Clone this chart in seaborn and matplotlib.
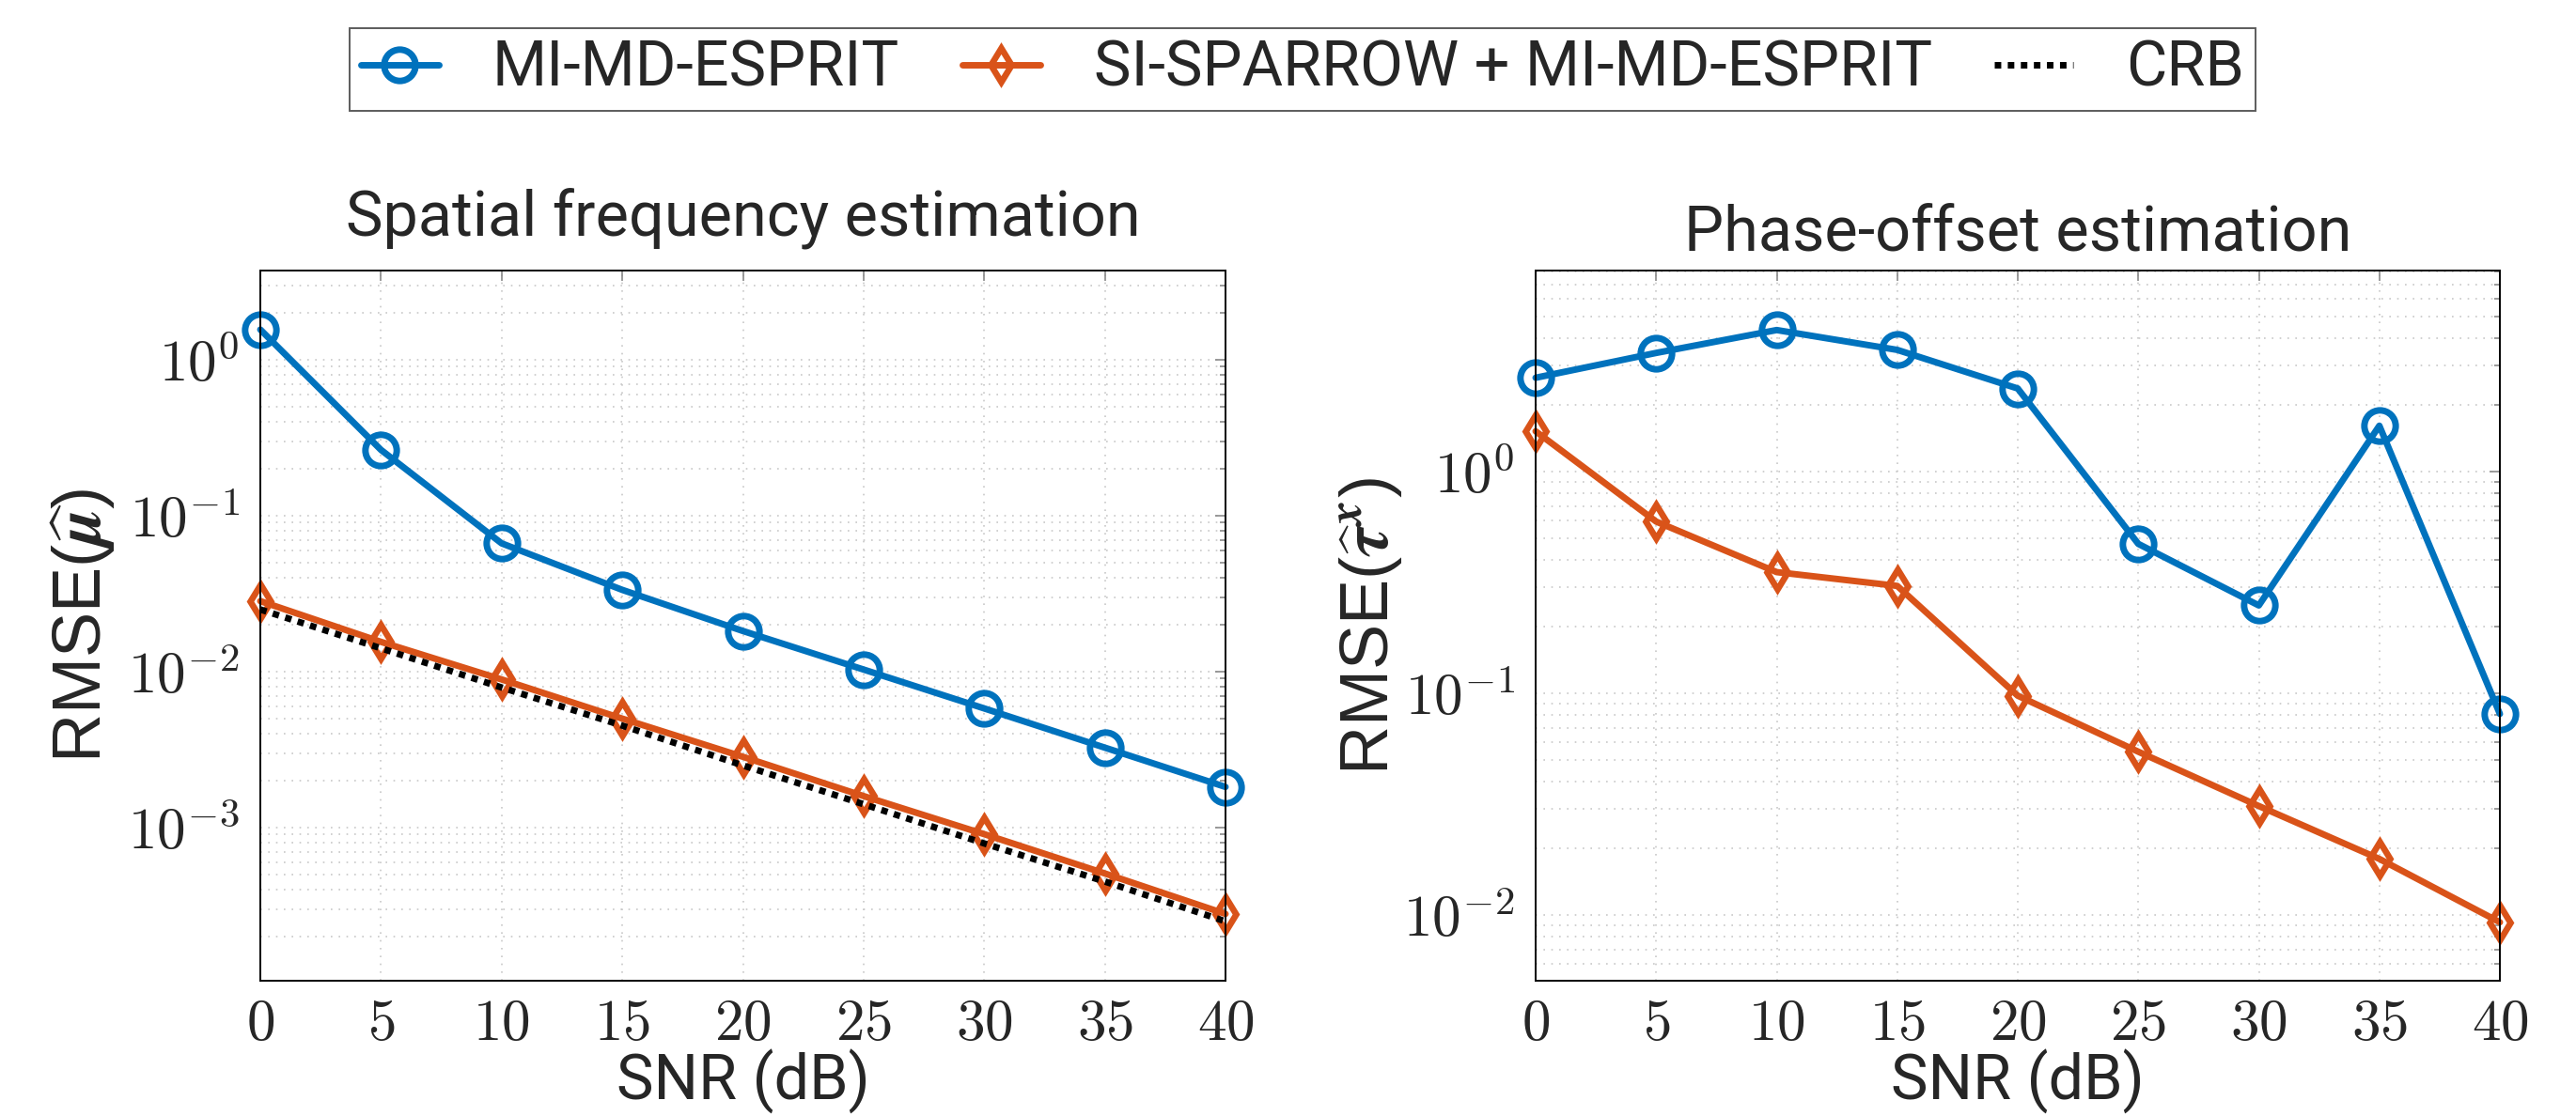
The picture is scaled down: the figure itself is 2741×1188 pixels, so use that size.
import numpy as np
import pandas as pd
import matplotlib
matplotlib.use("Agg")
import matplotlib.pyplot as plt
import matplotlib.ticker as mticker
import seaborn as sns

# ---------------- data ----------------
snr = [0, 5, 10, 15, 20, 25, 30, 35, 40]

mu_mimd = [1.56, 0.264, 0.0664, 0.0334, 0.0182, 0.0103, 0.0058, 0.00325, 0.00182]
mu_sisp = [0.0283, 0.0155, 0.0089, 0.00499, 0.00284, 0.00159, 0.000906, 0.000507, 0.000279]
mu_crb = [0.0250, 0.0141, 0.0079, 0.0045, 0.0025, 0.00141, 0.00079, 0.00045, 0.00025]

tau_mimd = [2.65, 3.43, 4.35, 3.54, 2.37, 0.472, 0.249, 1.61, 0.0807]
tau_sisp = [1.52, 0.595, 0.352, 0.305, 0.0975, 0.0545, 0.031, 0.0179, 0.00927]

labels = ["MI-MD-ESPRIT", "SI-SPARROW + MI-MD-ESPRIT", "CRB"]
titles = ["Spatial frequency estimation", "Phase-offset estimation"]
ylabels = [r"RMSE($\widehat{\boldsymbol{\mu}}$)",
           r"RMSE($\widehat{\boldsymbol{\tau}}^{\boldsymbol{x}}$)"]
xlabel = "SNR (dB)"

# ---------------- style ----------------
sns.set_style("white")
plt.rcParams["font.family"] = ["Roboto", "DejaVu Sans"]
plt.rcParams["mathtext.fontset"] = "cm"

BLUE = "#0072BD"
ORANGE = "#D95319"

W, H = 2741, 1188
DPI = 200
fig = plt.figure(figsize=(W / DPI, H / DPI), dpi=DPI)

ax1 = fig.add_axes([277 / W, 1 - 1044 / H, (1304 - 277) / W, (1044 - 288) / H])
ax2 = fig.add_axes([1634 / W, 1 - 1044 / H, (2660 - 1634) / W, (1044 - 288) / H])

line_kw = dict(linewidth=2.5, markersize=12, markeredgewidth=2.5,
               markerfacecolor="none", clip_on=False)
dia_kw = dict(linewidth=2.5, markersize=9, markeredgewidth=2.4,
              markerfacecolor="none", clip_on=False)


def draw(ax, s1, s2, crb=None):
    df = pd.DataFrame({"snr": snr, "a": s1, "b": s2})
    sns.lineplot(data=df, x="snr", y="a", ax=ax, color=BLUE, marker="o",
                 sort=False, errorbar=None, label=labels[0], markeredgecolor=BLUE,
                 **line_kw)
    sns.lineplot(data=df, x="snr", y="b", ax=ax, color=ORANGE, marker="d",
                 sort=False, errorbar=None, label=labels[1], markeredgecolor=ORANGE,
                 **dia_kw)
    if crb is not None:
        dfc = pd.DataFrame({"snr": snr, "c": crb})
        sns.lineplot(data=dfc, x="snr", y="c", ax=ax, color="black",
                     sort=False, errorbar=None, label=labels[2],
                     linewidth=2.5, linestyle=(0, (1, 1)), clip_on=False)


draw(ax1, mu_mimd, mu_sisp, mu_crb)
draw(ax2, tau_mimd, tau_sisp)

ylims = [(1.04e-4, 3.73), (0.00505, 8.07)]
title_pads = [13, 7.5]
ylabel_x = [-0.148, -0.136]

for i, ax in enumerate([ax1, ax2]):
    ax.set_yscale("log")
    ax.set_xlim(0, 40)
    ax.set_ylim(*ylims[i])
    ax.set_xticks(snr)
    ax.xaxis.set_major_formatter(mticker.FuncFormatter(lambda v, p: f"${v:g}$"))
    ax.yaxis.set_major_locator(mticker.LogLocator(base=10, numticks=20))
    ax.yaxis.set_minor_locator(mticker.LogLocator(base=10, subs=np.arange(2, 10), numticks=20))
    ax.yaxis.set_major_formatter(mticker.FuncFormatter(
        lambda v, p: f"$10^{{{int(round(np.log10(v)))}}}$"))
    ax.yaxis.set_minor_formatter(mticker.NullFormatter())
    ax.tick_params(which="both", direction="in", top=True, right=True,
                   color="#8a8a8a", width=0.6, labelsize=22)
    ax.tick_params(which="major", length=4)
    ax.tick_params(which="minor", length=2.2)
    ax.tick_params(axis="x", pad=6)
    ax.tick_params(axis="y", pad=8)
    ax.grid(True, which="major", linestyle=(0, (1, 4)), color="#c8c8c8", linewidth=0.6)
    ax.grid(True, which="minor", axis="y", linestyle=(0, (1, 4)), color="#c8c8c8", linewidth=0.6)
    for sp in ax.spines.values():
        sp.set_color("black")
        sp.set_linewidth(0.7)
        sp.set_visible(True)
    ax.set_title(titles[i], fontsize=24, pad=title_pads[i])
    ax.set_xlabel(xlabel, fontsize=24)
    ax.set_ylabel(ylabels[i], fontsize=26, family=["Liberation Sans", "DejaVu Sans"])
    ax.xaxis.set_label_coords(0.5, -0.097)
    ax.yaxis.set_label_coords(ylabel_x[i], 0.5)
    ax.set_axisbelow(True)

handles, labs = ax1.get_legend_handles_labels()
ax1.get_legend().remove()
ax2.get_legend().remove()
leg = fig.legend(handles, labs, loc="upper center", ncol=3,
                 bbox_to_anchor=(1386 / W, 1 - 30 / H), fontsize=24,
                 frameon=True, fancybox=False, edgecolor="#333333",
                 handlelength=1.25, handletextpad=0.85, columnspacing=1.0,
                 borderpad=0.18, borderaxespad=0)
leg.get_frame().set_linewidth(0.7)

fig.savefig("out.png", dpi=DPI)
